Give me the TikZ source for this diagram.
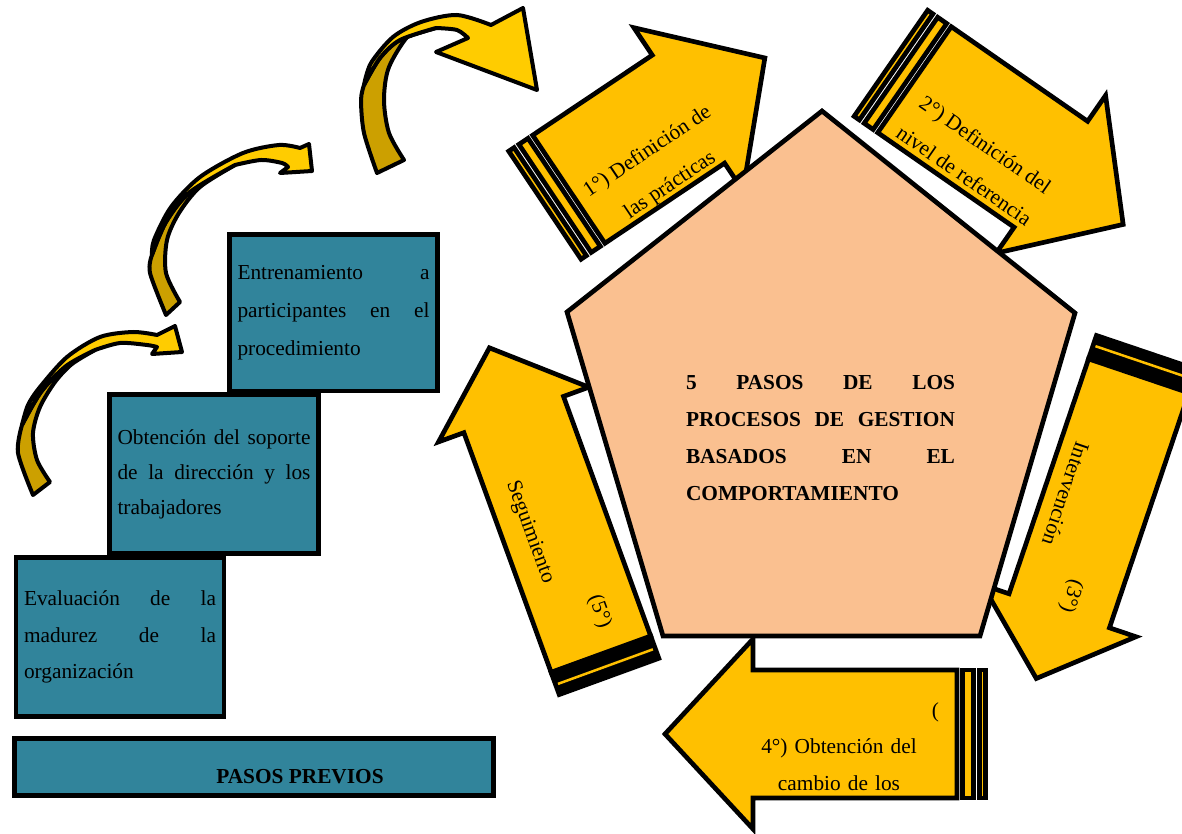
\documentclass[tikz,border=0pt]{standalone}
\usepackage{fontspec}
\setmainfont{Liberation Serif}
\definecolor{teal1}{HTML}{31849B}
\definecolor{peach}{HTML}{FAC090}
\definecolor{gold1}{HTML}{FFC000}
\definecolor{cbright}{HTML}{FFCC00}
\definecolor{cdark}{HTML}{CCA000}
\tikzset{
  arrowbody/.style={draw=black, fill=gold1, line width=3.5pt},
  stepbox/.style={draw=black, fill=teal1, line width=3.5pt, inner ysep=0pt, inner xsep=6pt, align=left},
  lbl/.style={font=\fontsize{16}{27.5}\selectfont, inner sep=0pt},
  cbr/.style={draw=black, fill=cbright, line width=3pt, line join=round},
  cdk/.style={draw=black, fill=cdark, line width=3pt, line join=round},
}
\newcommand\blockarrow[5]{\filldraw[arrowbody] (#1,-#4) -- (#2,-#4) -- (#2,-#5) -- (#3,0) -- (#2,#5) -- (#2,#4) -- (#1,#4) -- cycle;}
\newcommand\litestripes[1]{\filldraw[arrowbody] (2.3,-#1) rectangle (8.7,#1); \filldraw[arrowbody] (14.5,-#1) rectangle (25.5,#1);}
\newcommand\darkstripes[2]{\filldraw[line width=3.5pt, draw=black, fill=black] (2.3,-#2) rectangle (#1,#2); \fill[gold1] (11.5,{2.5-#2}) rectangle (14,{#2-2.5});}
\begin{document}
\begin{tikzpicture}[x=0.75pt,y=-0.75pt]
\useasboundingbox (0,0) rectangle (1182,834);
\clip (0,0) rectangle (1182,834);
\fill[white] (0,0) rectangle (1182,834);

% ---- curved arrow A ----
\filldraw[cdk] plot[smooth] coordinates {(33,495) (18,453) (22,425)} -- plot[smooth] coordinates {(22,425) (41,392) (66,366) (95,350)} -- plot[smooth] coordinates {(95,350) (72,364) (55,382) (40,407) (33,433) (37,460) (50,482)} -- cycle;
\filldraw[cbr] plot[smooth] coordinates {(22,425) (28,405) (40,387) (67,357) (100,337) (133,332) (157,335)} -- (175,326) -- (182,352) -- (152,354) -- (157,347) -- plot[smooth] coordinates {(157,347) (147,345) (120,343) (95,350)} -- plot[smooth] coordinates {(95,350) (66,366) (41,392) (22,425)} -- cycle;

% ---- curved arrow B ----
\filldraw[cdk] plot[smooth] coordinates {(166,315) (150,273) (152,255)} -- plot[smooth] coordinates {(152,255) (166,222) (190,192) (235,165)} -- plot[smooth] coordinates {(235,165) (200,187) (179,213) (167,240) (166,273) (180,302)} -- cycle;
\filldraw[cbr] plot[smooth] coordinates {(152,255) (154,240) (171,207) (200,177) (243,153) (279,145) (300,148)} -- (309,144) -- (312,171) -- (280,173) -- (288,167) -- plot[smooth] coordinates {(288,167) (282,163) (261,160) (235,165)} -- plot[smooth] coordinates {(235,165) (190,192) (166,222) (152,255)} -- cycle;

% ---- curved arrow C ----
\filldraw[cdk] plot[smooth] coordinates {(377,173) (364,133) (361,100) (364,85)} -- plot[smooth] coordinates {(364,85) (380,58) (400,40) (436,28)} -- plot[smooth] coordinates {(436,28) (411,33) (389,67) (384,100) (389,133) (404,160)} -- cycle;
\filldraw[cbr] plot[smooth] coordinates {(364,85) (371,63) (393,37) (421,22) (457,15) (491,25)} -- (523,8) -- (537,90) -- (436,52) -- (468,38) -- plot[smooth] coordinates {(468,38) (457,30) (436,28)} -- plot[smooth] coordinates {(436,28) (400,40) (380,58) (364,85)} -- cycle;

% ---- step boxes ----
\node[stepbox, text width=144pt, minimum height=119.6pt, font=\fontsize{16}{27.4}\selectfont] (b3) at (120,637)
  {Evaluación\hfill de\hfill la\\madurez\hfill de\hfill la\\organización};
\node[stepbox, text width=144.75pt, minimum height=119.2pt, font=\fontsize{16}{26.25}\selectfont] (b2) at (214,474)
  {Obtención\hfill del\hfill soporte\\de\hfill la\hfill dirección\hfill y\hfill los\\trabajadores};
\node[stepbox, text width=144pt, minimum height=117.4pt, font=\fontsize{16}{28.5}\selectfont] (b1) at (333.5,312.7)
  {Entrenamiento\hfill a\\participantes\hfill en\hfill el\\procedimiento};
\node[stepbox, minimum width=359.3pt, minimum height=42.75pt] (prev) at (254,767) {};
\node[lbl, font=\fontsize{16}{20}\selectfont\bfseries] (prevt) at (300,777) {PASOS PREVIOS};

% ---- arrow 1 ----
\begin{scope}[shift={(543,206.5)},rotate=33.8]
  \litestripes{65}
  \blockarrow{31}{175}{267}{65}{98}
  \begin{scope}
    \clip (31,-65) -- (175,-65) -- (175,-98) -- (267,0) -- (175,98) -- (175,65) -- (31,65) -- cycle;
    \node[lbl,transform shape,align=center,font=\fontsize{16}{30.3}\selectfont] (a1t) at (117.3,33.2) {1°) Definición de\\las prácticas};
  \end{scope}
\end{scope}

% ---- arrow 2 ----
\begin{scope}[shift={(889,62)},rotate=-34.75]
  \litestripes{64.5}
  \blockarrow{31}{197}{285}{64.5}{96}
  \begin{scope}
    \clip (31,-64.5) -- (197,-64.5) -- (197,-96) -- (285,0) -- (197,96) -- (197,64.5) -- (31,64.5) -- cycle;
    \node[lbl,transform shape,align=center,font=\fontsize{16}{27.9}\selectfont] (a2t) at (126.5,31.5) {2°) Definición del\\nivel de referencia};
  \end{scope}
\end{scope}

% ---- arrow 3 ----
\begin{scope}[shift={(1147.4,350.3)},rotate=-108.7]
  \darkstripes{27}{53}
  \blockarrow{27}{275}{346.5}{53}{81}
  \node[lbl,transform shape,text width=124.5pt,align=left,font=\fontsize{16}{29.7}\selectfont] (a3t) at (191,11.4) {\hfill(3°)\\Intervención};
\end{scope}

% ---- arrow 4 ----
\begin{scope}[shift={(988,734)},rotate=180]
  \litestripes{64}
  \blockarrow{31}{235}{323}{64}{95}
\end{scope}
\node[lbl,text width=150pt,align=center,font=\fontsize{16}{27.4}\selectfont] (a4t) at (839,746.5) {\hfill(\\4°) Obtención del\\cambio de los};

% ---- arrow 5 ----
\begin{scope}[shift={(609.8,678.6)},rotate=110]
  \darkstripes{26}{53}
  \blockarrow{26}{281}{352}{53}{80}
  \node[lbl,transform shape,rotate=180,text width=126.75pt,align=left,font=\fontsize{16}{28.5}\selectfont] (a5t) at (134.5,-5.75) {\hfill(5°)\\Seguimiento};
\end{scope}

% ---- pentagon ----
\filldraw[draw=black, fill=peach, line width=3.5pt] (567,312) -- (822,111) -- (1075,313) -- (980,636) -- (663,636) -- cycle;
\node[lbl, font=\fontsize{16}{27.75}\selectfont\bfseries, text width=201.75pt, align=left] (core) at (820.5,438.5)
  {5\hfill PASOS\hfill DE\hfill LOS\\PROCESOS\hfill DE\hfill GESTION\\BASADOS\hfill EN\hfill EL\\COMPORTAMIENTO};
\end{tikzpicture}
\end{document}
